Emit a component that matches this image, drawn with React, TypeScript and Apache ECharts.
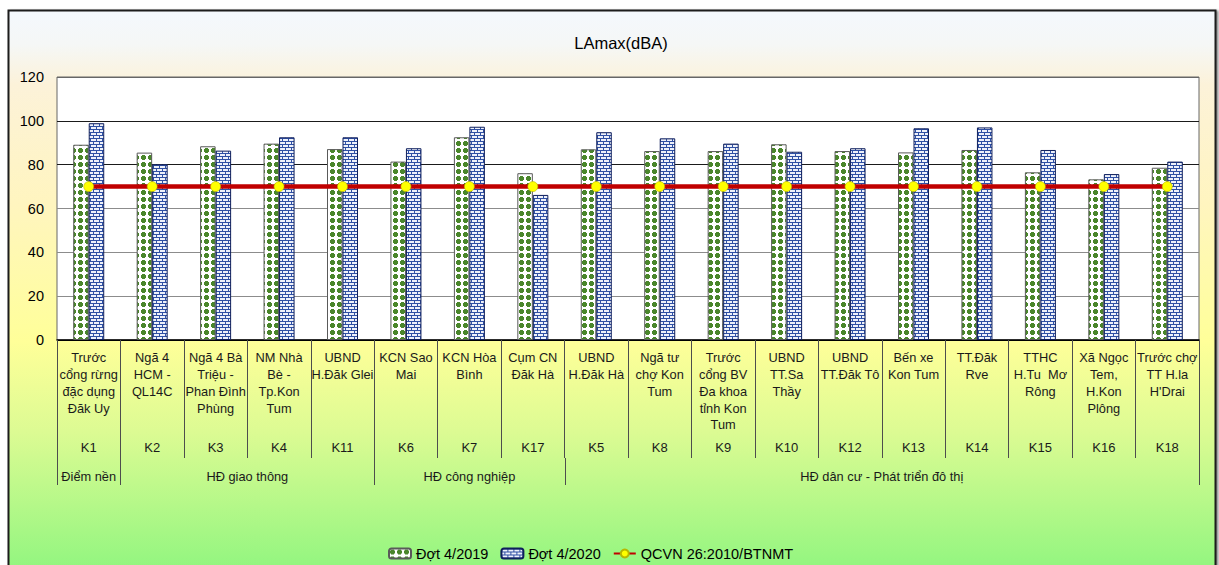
import React, { useEffect, useRef } from 'react';
import * as echarts from 'echarts';

const codes = ['K1', 'K2', 'K3', 'K4', 'K11', 'K6', 'K7', 'K17', 'K5', 'K8', 'K9', 'K10', 'K12', 'K13', 'K14', 'K15', 'K16', 'K18'];
const names = [
  'Trước\ncổng rừng\nđặc dụng\nĐăk Uy',
  'Ngã 4\nHCM -\nQL14C',
  'Ngã 4 Bà\nTriệu -\nPhan Đình\nPhùng',
  'NM Nhà\nBè -\nTp.Kon\nTum',
  'UBND\nH.Đăk Glei',
  'KCN Sao\nMai',
  'KCN Hòa\nBình',
  'Cụm CN\nĐăk Hà',
  'UBND\nH.Đăk Hà',
  'Ngã tư\nchợ Kon\nTum',
  'Trước\ncổng BV\nĐa khoa\ntỉnh Kon\nTum',
  'UBND\nTT.Sa\nThầy',
  'UBND\nTT.Đăk Tô',
  'Bến xe\nKon Tum',
  'TT.Đăk\nRve',
  'TTHC\nH.Tu  Mơ\nRông',
  'Xã Ngọc\nTem,\nH.Kon\nPlông',
  'Trước chợ\nTT H.la\nH\'Drai',
];
const dot2019 = [89.1, 85.5, 88.4, 89.6, 87.1, 81.4, 92.5, 76.1, 87.0, 86.2, 86.2, 89.3, 86.2, 85.6, 86.7, 76.5, 73.3, 78.6];
const dot2020 = [98.9, 80.2, 86.4, 92.5, 92.5, 87.5, 97.3, 66.2, 94.8, 92.0, 89.6, 85.9, 87.5, 96.6, 97.0, 86.7, 75.7, 81.4];
const qcvn = [70, 70, 70, 70, 70, 70, 70, 70, 70, 70, 70, 70, 70, 70, 70, 70, 70, 70];
const groupNames = ['Điểm nền', 'HĐ giao thông', 'HĐ công nghiệp', 'HĐ dân cư - Phát triển đô thị'];
const groupSizes = [1, 4, 3, 10];
const seriesNames = ['Đợt 4/2019', 'Đợt 4/2020', 'QCVN 26:2010/BTNMT'];
const title = 'LAmax(dBA)';

const FONT = '"Liberation Sans", Arial, sans-serif';
const W = 1219;
const H = 565;
const GRID_LEFT = 57;
const GRID_TOP = 77;
const GRID_W = 1142;
const GRID_H = 263;

function makeDotTile() {
  const c = document.createElement('canvas');
  c.width = 7;
  c.height = 7;
  const ctx = c.getContext('2d')!;
  ctx.fillStyle = '#ffffff';
  ctx.fillRect(0, 0, 7, 7);
  ctx.fillStyle = '#4a862b';
  ctx.fillRect(1, 2, 5, 3);
  ctx.fillRect(2, 1, 3, 5);
  return c.toDataURL();
}

function makeBrickTile() {
  const c = document.createElement('canvas');
  c.width = 6;
  c.height = 6;
  const ctx = c.getContext('2d')!;
  ctx.fillStyle = '#eef1fa';
  ctx.fillRect(0, 0, 6, 6);
  ctx.fillStyle = '#2f50a4';
  ctx.fillRect(0, 0, 6, 1);
  ctx.fillRect(0, 3, 6, 1);
  ctx.fillRect(0, 0, 1, 3);
  ctx.fillRect(3, 3, 1, 3);
  return c.toDataURL();
}

export default function App() {
  const ref = useRef<HTMLDivElement>(null);
  useEffect(() => {
    if (!ref.current) return;
    const chart = echarts.init(ref.current, null, { renderer: 'svg' });
    const dotPattern = { image: makeDotTile(), repeat: 'repeat', imageWidth: 7, imageHeight: 7 };
    const brickPattern = { image: makeBrickTile(), repeat: 'repeat', imageWidth: 6, imageHeight: 6 };

    const band = GRID_W / codes.length;
    const bottom = GRID_TOP + GRID_H;
    const graphics: any[] = [
      {
        type: 'rect',
        z: -100,
        silent: true,
        shape: { x: 8.5, y: 10.5, width: 1207, height: 570 },
        style: {
          stroke: '#1a1a1a',
          lineWidth: 2,
          shadowColor: 'rgba(0,0,0,0.45)',
          shadowOffsetX: 2,
          shadowOffsetY: 1,
          shadowBlur: 2,
          fill: new echarts.graphic.LinearGradient(0, 0, 0, 1, [
            { offset: 0, color: '#f4f8fd' },
            { offset: 0.06, color: '#f5f7f6' },
            { offset: 0.13, color: '#fcf2d9' },
            { offset: 0.34, color: '#fff5bf' },
            { offset: 0.58, color: '#ffff99' },
            { offset: 0.74, color: '#dcfb93' },
            { offset: 1, color: '#8cf57e' },
          ]),
        },
      },
      {
        type: 'text',
        x: 621,
        y: 43,
        silent: true,
        style: { text: title, fill: '#000', fontSize: 16.5, fontFamily: FONT, align: 'center', verticalAlign: 'middle' },
      },
    ];
    let start = 0;
    const boundaries = [0];
    groupSizes.forEach((size, gi) => {
      const x0 = GRID_LEFT + start * band;
      const x1 = GRID_LEFT + (start + size) * band;
      graphics.push({
        type: 'text',
        x: (x0 + x1) / 2,
        y: 476,
        silent: true,
        style: { text: groupNames[gi], fill: '#1a1a1a', fontSize: 12.8, fontFamily: FONT, align: 'center', verticalAlign: 'middle' },
      });
      start += size;
      boundaries.push(start);
    });
    boundaries.forEach((b) => {
      const x = Math.round(GRID_LEFT + b * band) + 0.5;
      graphics.push({
        type: 'line',
        silent: true,
        shape: { x1: x, y1: bottom + 118, x2: x, y2: bottom + 145 },
        style: { stroke: '#4d4d4d', lineWidth: 1 },
      });
    });

    chart.setOption({
      animation: false,
      backgroundColor: '#ffffff',
      textStyle: { fontFamily: FONT },
      graphic: graphics,
      grid: {
        left: GRID_LEFT,
        top: GRID_TOP,
        width: GRID_W,
        height: GRID_H,
        show: true,
        backgroundColor: '#ffffff',
        borderColor: '#666666',
        borderWidth: 1,
      },
      legend: {
        left: 383,
        top: 541,
        itemWidth: 22,
        itemHeight: 10,
        itemGap: 12,
        textStyle: { fontSize: 14.5, color: '#000', fontFamily: FONT },
        data: seriesNames,
      },
      xAxis: [
        {
          type: 'category',
          data: names,
          position: 'bottom',
          axisLine: { show: true, lineStyle: { color: '#000', width: 1.5 } },
          axisTick: { show: true, interval: 0, length: 118, lineStyle: { color: '#4d4d4d', width: 1 } },
          axisLabel: {
            interval: 0,
            margin: 9.6,
            fontSize: 12.8,
            lineHeight: 16.7,
            color: '#1a1a1a',
            fontFamily: FONT,
          },
          splitLine: { show: false },
        },
        {
          type: 'category',
          data: codes,
          position: 'bottom',
          offset: 92,
          axisLine: { show: false },
          axisTick: { show: false },
          axisLabel: { interval: 0, margin: 7.6, fontSize: 13, lineHeight: 16.7, color: '#1a1a1a', fontFamily: FONT },
          splitLine: { show: false },
        },
      ],
      yAxis: {
        type: 'value',
        min: 0,
        max: 120,
        interval: 20,
        axisLine: { show: false },
        axisTick: { show: false },
        axisLabel: { fontSize: 14.5, color: '#000', margin: 13, fontFamily: FONT },
        splitLine: {
          show: true,
          showMinLine: true,
          showMaxLine: true,
          lineStyle: {
            color: ['#000000', '#8c8c8c', '#8c8c8c', '#8c8c8c', '#1a1a1a', '#1a1a1a', '#666666'],
            width: 1,
          },
        },
      },
      series: [
        {
          name: seriesNames[0],
          type: 'bar',
          data: dot2019,
          barWidth: 15.5,
          barGap: '0%',
          itemStyle: { color: dotPattern, borderColor: '#5a5a5a', borderWidth: 1 },
        },
        {
          name: seriesNames[1],
          type: 'bar',
          data: dot2020,
          barWidth: 15.5,
          barGap: '0%',
          itemStyle: { color: brickPattern, borderColor: '#0f1f5c', borderWidth: 1 },
        },
        {
          name: seriesNames[2],
          type: 'line',
          data: qcvn,
          symbol: 'circle',
          symbolSize: 10,
          z: 5,
          lineStyle: { color: '#c00000', width: 4.5 },
          itemStyle: { color: '#ffff00', borderColor: '#b8b800', borderWidth: 0.6 },
        },
      ],
    });
    return () => chart.dispose();
  }, []);
  return <div ref={ref} style={{ position: 'absolute', left: 0, top: 0, width: W, height: H }} />;
}
